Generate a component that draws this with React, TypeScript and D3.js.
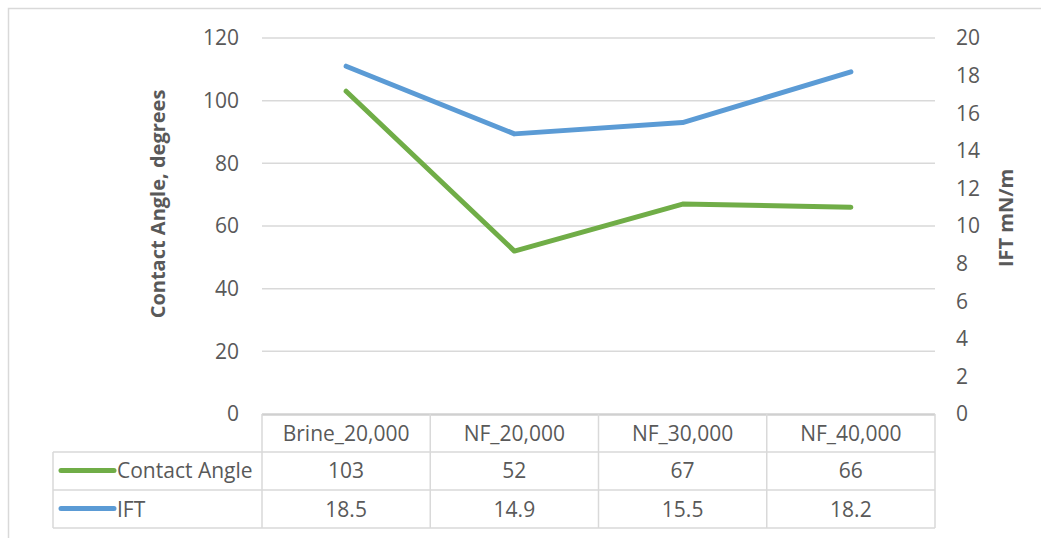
import React from "react";
import * as d3 from "d3";

const categories = ["Brine_20,000", "NF_20,000", "NF_30,000", "NF_40,000"];
const contactAngle = [103, 52, 67, 66];
const ift = [18.5, 14.9, 15.5, 18.2];
const leftTicks = [0, 20, 40, 60, 80, 100, 120];
const rightTicks = [0, 2, 4, 6, 8, 10, 12, 14, 16, 18, 20];
const seriesNames = ["Contact Angle", "IFT"];
const seriesLabels = [
  ["103", "52", "67", "66"],
  ["18.5", "14.9", "15.5", "18.2"],
];

const W = 1041;
const H = 538;
const plotLeft = 262;
const plotRight = 935;
const plotTop = 38;
const plotBottom = 414;
const tableLeft = 53;
const rowLines = [452, 490, 528];
const FONT = "'Open Sans', 'DejaVu Sans', sans-serif";
const TEXT = "#595959";
const GRID = "#d9d9d9";
const GREEN = "#70AD47";
const BLUE = "#5B9BD5";
const FS = 21;

export default function App() {
  const x = d3.scaleBand<string>().domain(categories).range([plotLeft, plotRight]);
  const yL = d3.scaleLinear().domain([0, 120]).range([plotBottom, plotTop]);
  const yR = d3.scaleLinear().domain([0, 20]).range([plotBottom, plotTop]);
  const cx = (c: string) => (x(c) as number) + x.bandwidth() / 2;

  const lineL = d3
    .line<number>()
    .x((_, i) => cx(categories[i]))
    .y((d) => yL(d));
  const lineR = d3
    .line<number>()
    .x((_, i) => cx(categories[i]))
    .y((d) => yR(d));

  const colEdges = [...categories.map((c) => x(c) as number), plotRight];
  const colors = [GREEN, BLUE];

  return (
    <svg
      width={W}
      height={H}
      style={{ position: "absolute", left: 0, top: 0, background: "#fff" }}
      fontFamily={FONT}
    >
      <rect x={8.5} y={8.5} width={1100} height={600} fill="#fff" stroke={GRID} strokeWidth={1.5} />

      {/* gridlines */}
      {leftTicks.filter((t) => t > 0).map((t) => (
        <line key={t} x1={plotLeft} x2={plotRight} y1={yL(t)} y2={yL(t)} stroke={GRID} strokeWidth={1.5} />
      ))}

      {/* left ticks */}
      {leftTicks.map((t) => (
        <text key={t} x={239} y={yL(t)} dy="0.35em" textAnchor="end" fontSize={FS} fill={TEXT}>
          {t}
        </text>
      ))}
      {/* right ticks */}
      {rightTicks.map((t) => (
        <text key={t} x={956} y={yR(t)} dy="0.35em" textAnchor="start" fontSize={FS} fill={TEXT}>
          {t}
        </text>
      ))}

      {/* axis titles */}
      <text
        transform={`translate(165,204) rotate(-90)`}
        textAnchor="middle"
        fontSize={20}
        fontWeight="bold"
        fill={TEXT}
      >
        Contact Angle, degrees
      </text>
      <text
        transform={`translate(1013,218) rotate(-90)`}
        textAnchor="middle"
        fontSize={20}
        fontWeight="bold"
        fill={TEXT}
      >
        IFT mN/m
      </text>

      {/* table */}
      <line x1={plotLeft} x2={plotRight} y1={plotBottom + 0.5} y2={plotBottom + 0.5} stroke="#d0d0d0" strokeWidth={2.5} />
      {rowLines.map((y) => (
        <line key={y} x1={tableLeft} x2={plotRight} y1={y} y2={y} stroke={GRID} strokeWidth={1.5} />
      ))}
      <line x1={tableLeft} x2={tableLeft} y1={rowLines[0]} y2={rowLines[2]} stroke={GRID} strokeWidth={1.5} />
      {colEdges.map((xe, i) => (
        <line key={i} x1={xe} x2={xe} y1={plotBottom} y2={rowLines[2]} stroke={GRID} strokeWidth={1.5} />
      ))}
      {categories.map((c) => (
        <text key={c} x={cx(c)} y={441} textAnchor="middle" fontSize={FS} fill={TEXT}>
          {c}
        </text>
      ))}
      {seriesNames.map((s, si) => {
        const base = si === 0 ? 478 : 517;
        const ly = si === 0 ? 470.5 : 508.5;
        return (
          <g key={s}>
            <line x1={61} x2={114} y1={ly} y2={ly} stroke={colors[si]} strokeWidth={5} strokeLinecap="round" />
            <text x={117} y={base} fontSize={FS} fill={TEXT}>
              {s}
            </text>
            {categories.map((c, ci) => (
              <text key={c} x={cx(c)} y={base} textAnchor="middle" fontSize={FS} fill={TEXT}>
                {seriesLabels[si][ci]}
              </text>
            ))}
          </g>
        );
      })}

      {/* series */}
      <path d={lineR(ift) || ""} fill="none" stroke={BLUE} strokeWidth={5} strokeLinecap="round" strokeLinejoin="round" />
      <path d={lineL(contactAngle) || ""} fill="none" stroke={GREEN} strokeWidth={5} strokeLinecap="round" strokeLinejoin="round" />
    </svg>
  );
}
